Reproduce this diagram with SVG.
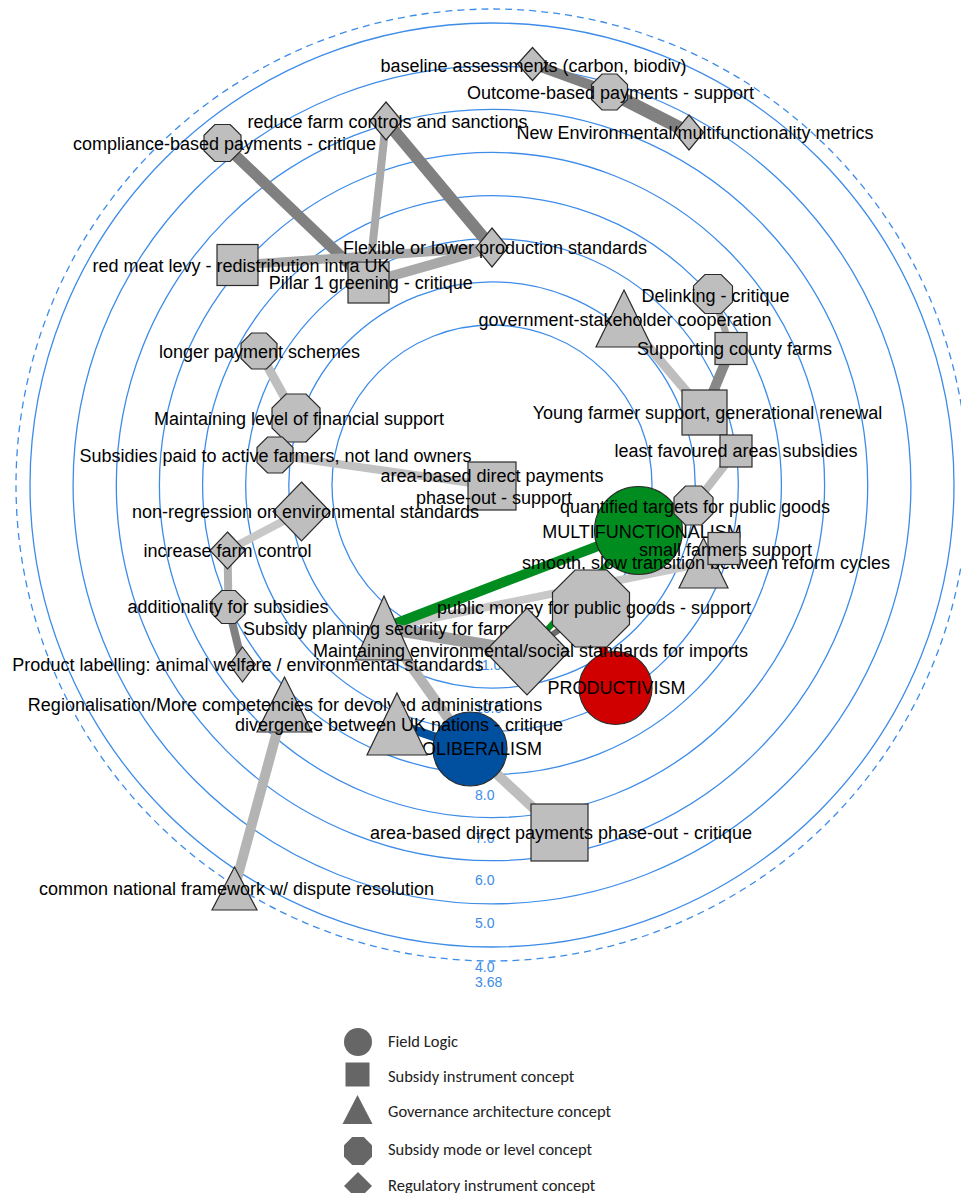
<svg xmlns="http://www.w3.org/2000/svg" width="961" height="1193" viewBox="0 0 961 1193">
<style>
.ring{fill:none;stroke:#3d8ce8;stroke-width:1.3}
.dash{fill:none;stroke:#3d8ce8;stroke-width:1.3;stroke-dasharray:7 5}
.rl{font-family:"Liberation Sans",Arial,sans-serif;font-size:14px;fill:#3d8ce8}
.e{fill:none;stroke-linecap:butt}
.n{fill:#bebebe;stroke:#2b2b2b;stroke-width:1.2}
.lb{font-family:"Liberation Sans",Arial,sans-serif;font-size:18px;fill:#000;text-anchor:middle}
.lg{fill:#666}
.lt{font-family:Carlito,Lato,"Open Sans",sans-serif;font-size:16.5px;fill:#222}
</style>
<rect width="961" height="1193" fill="#fff"/>
<g id="rings">
<circle class="dash" cx="492" cy="485" r="476"/>
<circle class="ring" cx="492" cy="485" r="462"/>
<circle class="ring" cx="492" cy="485" r="418.9"/>
<circle class="ring" cx="492" cy="485" r="375.7"/>
<circle class="ring" cx="492" cy="485" r="332.6"/>
<circle class="ring" cx="492" cy="485" r="289.4"/>
<circle class="ring" cx="492" cy="485" r="246.3"/>
<circle class="ring" cx="492" cy="485" r="203.2"/>
<circle class="ring" cx="492" cy="485" r="160"/>
<text class="rl" x="475" y="987">3.68</text>
<text class="rl" x="475" y="972">4.0</text>
<text class="rl" x="475" y="928">5.0</text>
<text class="rl" x="475" y="885">6.0</text>
<text class="rl" x="475" y="843">7.0</text>
<text class="rl" x="475" y="800">8.0</text>
<text class="rl" x="475" y="757">9.0</text>
<text class="rl" x="475" y="713">10.0</text>
<text class="rl" x="475" y="670">11.0</text>
</g>
<g id="connectors" class="e">
<line x1="532.5" y1="64" x2="609.5" y2="92" stroke="#808080" stroke-width="10"/>
<line x1="609.5" y1="92" x2="689" y2="132.5" stroke="#808080" stroke-width="13"/>
<line x1="386" y1="121" x2="492" y2="247.5" stroke="#808080" stroke-width="12"/>
<line x1="386" y1="121" x2="368.5" y2="282.5" stroke="#a9a9a9" stroke-width="8"/>
<line x1="222.5" y1="143" x2="368.5" y2="282.5" stroke="#808080" stroke-width="11"/>
<line x1="237.5" y1="265" x2="492" y2="247.5" stroke="#a9a9a9" stroke-width="9"/>
<line x1="368.5" y1="282.5" x2="492" y2="247.5" stroke="#a9a9a9" stroke-width="10"/>
<line x1="713" y1="294" x2="731" y2="348.5" stroke="#a9a9a9" stroke-width="7"/>
<line x1="731" y1="348.5" x2="704.5" y2="412.5" stroke="#888" stroke-width="10"/>
<line x1="624" y1="318" x2="704.5" y2="412.5" stroke="#bebebe" stroke-width="9"/>
<line x1="736" y1="451" x2="693.5" y2="505.5" stroke="#bebebe" stroke-width="8"/>
<line x1="259" y1="351" x2="296" y2="418" stroke="#bebebe" stroke-width="9"/>
<line x1="275" y1="455" x2="492" y2="486" stroke="#c2c2c2" stroke-width="8"/>
<line x1="301.5" y1="511.5" x2="227.5" y2="550.5" stroke="#c8c8c8" stroke-width="8"/>
<line x1="227.5" y1="550.5" x2="228.5" y2="607" stroke="#b0b0b0" stroke-width="8"/>
<line x1="228.5" y1="607" x2="242.5" y2="664.5" stroke="#808080" stroke-width="8"/>
<line x1="284.5" y1="704" x2="234.5" y2="888" stroke="#b4b4b4" stroke-width="10"/>
<line x1="397" y1="724" x2="470" y2="749" stroke="#0050a0" stroke-width="9"/>
<line x1="384" y1="628" x2="470" y2="749" stroke="#b4b4b4" stroke-width="10"/>
<line x1="470" y1="749" x2="559.5" y2="832.5" stroke="#bebebe" stroke-width="10"/>
<line x1="384" y1="628" x2="703.5" y2="563" stroke="#c8c8c8" stroke-width="8"/>
<line x1="384" y1="628" x2="638.5" y2="530.5" stroke="#008c1e" stroke-width="10"/>
<line x1="384" y1="628" x2="527" y2="651.5" stroke="#a0a0a0" stroke-width="12"/>
<line x1="527" y1="651.5" x2="638.5" y2="530.5" stroke="#008c1e" stroke-width="6"/>
<line x1="527" y1="651.5" x2="591" y2="608.5" stroke="#6e6e6e" stroke-width="6"/>
<line x1="591" y1="608.5" x2="615.5" y2="688" stroke="#d40000" stroke-width="8"/>
</g>
<g id="n-baseline"><polygon class="n" points="532.5,47.5 547.5,64 532.5,80.5 517.5,64"/><text class="lb" x="533.5" y="72">baseline assessments (carbon, biodiv)</text></g>
<g id="n-outcome"><polygon class="n" points="602.05,74 616.95,74 627.5,84.55 627.5,99.45 616.95,110 602.05,110 591.5,99.45 591.5,84.55"/><text class="lb" x="610.5" y="99">Outcome-based payments - support</text></g>
<g id="n-newenv"><polygon class="n" points="689,115 703.5,132.5 689,150 674.5,132.5"/><text class="lb" x="695" y="139">New Environmental/multifunctionality metrics</text></g>
<g id="n-reduce"><polygon class="n" points="386,102 402,121 386,140 370,121"/><text class="lb" x="387.5" y="128">reduce farm controls and sanctions</text></g>
<g id="n-compliance"><polygon class="n" points="214.84,124.5 230.16,124.5 241,135.34 241,150.66 230.16,161.5 214.84,161.5 204,150.66 204,135.34"/><text class="lb" x="224.5" y="150">compliance-based payments - critique</text></g>
<g id="n-flexible"><polygon class="n" points="492,228 508,247.5 492,267 476,247.5"/><text class="lb" x="495" y="254">Flexible or lower production standards</text></g>
<g id="n-pillar1"><rect class="n" x="348" y="262" width="41" height="41"/><text class="lb" x="370.8" y="288.7">Pillar 1 greening - critique</text></g>
<g id="n-redmeat"><rect class="n" x="217" y="244.5" width="41" height="41"/><text class="lb" x="241" y="271.7">red meat levy - redistribution intra UK</text></g>
<g id="n-delinking"><polygon class="n" points="704.93,274.5 721.07,274.5 732.5,285.93 732.5,302.07 721.07,313.5 704.93,313.5 693.5,302.07 693.5,285.93"/><text class="lb" x="715.5" y="301.7">Delinking - critique</text></g>
<g id="n-gov"><polygon class="n" points="624,290 652,347 596,347"/><text class="lb" x="625" y="326">government-stakeholder cooperation</text></g>
<g id="n-county"><rect class="n" x="715" y="332.5" width="32" height="32"/><text class="lb" x="734.5" y="355">Supporting county farms</text></g>
<g id="n-young"><rect class="n" x="682" y="390" width="45" height="45"/><text class="lb" x="707.5" y="419.3">Young farmer support, generational renewal</text></g>
<g id="n-lfa"><rect class="n" x="720" y="435" width="32" height="32"/><text class="lb" x="736" y="457.3">least favoured areas subsidies</text></g>
<g id="n-multi"><circle cx="638.5" cy="530.5" r="44" fill="#008c1e" stroke="#2b2b2b" stroke-width="1.2"/><text class="lb" x="642" y="538.3">MULTIFUNCTIONALISM</text></g>
<g id="n-quant"><polygon class="n" points="685.43,486 701.57,486 713,497.43 713,513.57 701.57,525 685.43,525 674,513.57 674,497.43"/><text class="lb" x="695" y="512.7">quantified targets for public goods</text></g>
<g id="n-smooth"><polygon class="n" points="703.5,538 728,588 679,588"/><text class="lb" x="706" y="569.3">smooth, slow transition between reform cycles</text></g>
<g id="n-small"><rect class="n" x="708" y="532.5" width="32" height="32"/><text class="lb" x="725.5" y="556">small farmers support</text></g>
<g id="n-abdp-support"><rect class="n" x="468" y="462" width="48" height="48"/><text class="lb" x="492" y="482">area-based direct payments</text><text class="lb" x="494" y="504.3">phase-out - support</text></g>
<g id="n-longer"><polygon class="n" points="251.55,333 266.45,333 277,343.55 277,358.45 266.45,369 251.55,369 241,358.45 241,343.55"/><text class="lb" x="259.5" y="357.7">longer payment schemes</text></g>
<g id="n-maintlevel"><polygon class="n" points="286.06,394 305.94,394 320,408.06 320,427.94 305.94,442 286.06,442 272,427.94 272,408.06"/><text class="lb" x="299" y="425">Maintaining level of financial support</text></g>
<g id="n-active"><polygon class="n" points="267.55,437 282.45,437 293,447.55 293,462.45 282.45,473 267.55,473 257,462.45 257,447.55"/><text class="lb" x="275.5" y="461.7">Subsidies paid to active farmers, not land owners</text></g>
<g id="n-nonreg"><polygon class="n" points="301.5,482 330,511.5 301.5,541 273,511.5"/><text class="lb" x="305.5" y="518.3">non-regression on environmental standards</text></g>
<g id="n-increase"><polygon class="n" points="227.5,532 245,550.5 227.5,569 210,550.5"/><text class="lb" x="227.5" y="557.3">increase farm control</text></g>
<g id="n-additionality"><polygon class="n" points="221.67,590.5 235.33,590.5 245,600.17 245,613.83 235.33,623.5 221.67,623.5 212,613.83 212,600.17"/><text class="lb" x="228" y="613.3">additionality for subsidies</text></g>
<g id="n-labelling"><polygon class="n" points="242.5,647 255.5,664.5 242.5,682 229.5,664.5"/><text class="lb" x="248" y="670.7">Product labelling: animal welfare / environmental standards</text></g>
<g id="n-planning"><polygon class="n" points="384,596 412.5,660 355.5,660"/><text class="lb" x="391" y="635">Subsidy planning security for farmers</text></g>
<g id="n-publicmoney"><polygon class="n" points="575.06,570 606.94,570 629.5,592.56 629.5,624.44 606.94,647 575.06,647 552.5,624.44 552.5,592.56"/><text class="lb" x="594" y="614">public money for public goods - support</text></g>
<g id="n-prod"><circle cx="615.5" cy="688" r="36.5" fill="#d00000" stroke="#2b2b2b" stroke-width="1.2"/><text class="lb" x="616.5" y="694">PRODUCTIVISM</text></g>
<g id="n-imports"><polygon class="n" points="527,608 569,651.5 527,695 485,651.5"/><text class="lb" x="530.5" y="657.3">Maintaining environmental/social standards for imports</text></g>
<g id="n-regional"><polygon class="n" points="284.5,677 312,732 257,732"/><text class="lb" x="285" y="710.7">Regionalisation/More competencies for devolved administrations</text></g>
<g id="n-neo"><circle cx="470" cy="749" r="37" fill="#00509f" stroke="#2b2b2b" stroke-width="1.2"/><text class="lb" x="469.5" y="755">NEOLIBERALISM</text></g>
<g id="n-divergence"><polygon class="n" points="397,693 427,755 367,755"/><text class="lb" x="399" y="730.7">divergence between UK nations - critique</text></g>
<g id="n-abdp-critique"><rect class="n" x="531" y="804" width="57" height="57"/><text class="lb" x="561" y="839">area-based direct payments phase-out - critique</text></g>
<g id="n-framework"><polygon class="n" points="234.5,867 257,910 212,910"/><text class="lb" x="236.5" y="895">common national framework w/ dispute resolution</text></g>
<g id="legend">
<circle class="lg" cx="358" cy="1042" r="14"/>
<text class="lt" x="388" y="1047">Field Logic</text>
<rect class="lg" x="345.5" y="1062.5" width="24" height="24"/>
<text class="lt" x="388" y="1082">Subsidy instrument concept</text>
<polygon class="lg" points="357.5,1095 372.5,1124 342.5,1124"/>
<text class="lt" x="388" y="1117">Governance architecture concept</text>
<polygon class="lg" points="352.2,1137 363.8,1137 372,1145.2 372,1156.8 363.8,1165 352.2,1165 344,1156.8 344,1145.2"/>
<text class="lt" x="388" y="1155">Subsidy mode or level concept</text>
<polygon class="lg" points="358,1172 372,1186 358,1200 344,1186"/>
<text class="lt" x="388" y="1191">Regulatory instrument concept</text>
</g>
</svg>
